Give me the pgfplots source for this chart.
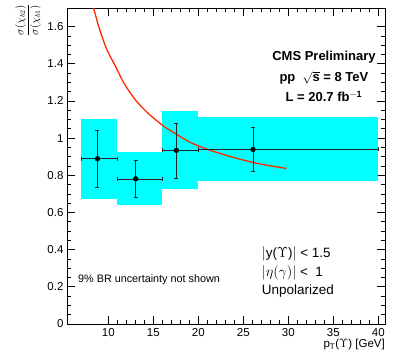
\documentclass[border=0pt]{standalone}
\usepackage{fontspec}
\setmainfont{Liberation Sans}
\usepackage{pgfplots}
\pgfplotsset{compat=1.18}
\definecolor{rootcyan}{RGB}{0,255,255}
\definecolor{rootred}{RGB}{255,40,0}
\begin{document}
\begin{tikzpicture}
\useasboundingbox (0,0) rectangle (395pt,357pt);
\begin{axis}[
  name=ax,
  at={(67pt,33pt)}, anchor=south west,
  scale only axis, width=318pt, height=316pt,
  xmin=5.4, xmax=40.75, ymin=0, ymax=1.7,
  xtick={10,15,20,25,30,35,40},
  ytick={0,0.2,0.4,0.6,0.8,1,1.2,1.4,1.6},
  minor x tick num=4, minor y tick num=3,
  tick pos=both, tick align=inside,
  major tick length=8pt, minor tick length=4pt,
  axis line style={line width=0.8pt},
  every tick/.style={line width=0.7pt, black},
  /pgf/number format/assume math mode=true,
  ticklabel style={font=\fontsize{11.5}{13}\selectfont},
  xticklabel style={yshift=-1pt},
  xlabel={p$_{\mathrm{T}}$($\Upsilon$) [GeV]},
  xlabel style={at={(axis description cs:1,0)}, anchor=north east, yshift=-12pt, inner xsep=0pt, font=\fontsize{11.5}{13}\selectfont},
  clip=true,
]
% systematic boxes
\addplot[fill=rootcyan, draw=none] coordinates {(7,0.672) (11,0.672) (11,1.105) (7,1.105)} -- cycle;
\addplot[fill=rootcyan, draw=none] coordinates {(11,0.640) (16,0.640) (16,0.926) (11,0.926)} -- cycle;
\addplot[fill=rootcyan, draw=none] coordinates {(16,0.724) (20,0.724) (20,1.147) (16,1.147)} -- cycle;
\addplot[fill=rootcyan, draw=none] coordinates {(20,0.770) (40,0.770) (40,1.111) (20,1.111)} -- cycle;
% theory curve
\addplot[rootred, line width=1.3pt, smooth] coordinates {
 (8.20,1.73) (8.93,1.60) (9.80,1.48) (10.75,1.39) (11.8,1.29) (13.1,1.20)
 (14.5,1.13) (16.1,1.066) (17.6,1.020) (19.1,0.977) (21.3,0.935)
 (24.0,0.895) (26.1,0.869) (28.0,0.851) (29.8,0.837)};
% data points
\addplot[black, only marks, mark=*, mark size=2.4pt,
  error bars/.cd, x dir=both, x explicit, y dir=both, y explicit,
  error bar style={line width=0.6pt, black!85},
  error mark options={rotate=90, mark size=2pt, line width=0.6pt, black!85}]
  table[x=x, y=y, x error plus=xp, x error minus=xm, y error plus=yp, y error minus=ym] {
  x     y     xm    xp     ym     yp
  8.79  0.889 1.79  2.21   0.154  0.154
  13.04 0.781 2.04  2.96   0.097  0.099
  17.56 0.934 1.56  2.44   0.149  0.145
  26.08 0.939 6.08  13.92  0.118  0.118
  };
\node[anchor=base, inner sep=0pt, font=\fontsize{13}{15}\selectfont\bfseries] at (axis description cs:0.808,0.835) {CMS Preliminary};
\node[anchor=base, inner sep=0pt, font=\fontsize{13}{15}\selectfont\bfseries] at (axis description cs:0.808,0.766) {pp\ \ $\sqrt{\mathbf{s}}$ = 8 TeV};
\node[anchor=base, inner sep=0pt, font=\fontsize{13}{15}\selectfont\bfseries] at (axis description cs:0.808,0.703) {L = 20.7 fb$^{\mathbf{-1}}$};
\node[anchor=base west, inner sep=0pt, font=\fontsize{13.5}{15}\selectfont] at (axis description cs:0.612,0.212) {$|$y($\Upsilon$)$|$ < 1.5};
\node[anchor=base west, inner sep=0pt, font=\fontsize{13.5}{15}\selectfont] at (axis description cs:0.612,0.150) {$|\eta(\gamma)|$ <\ \ 1};
\node[anchor=base west, inner sep=0pt, font=\fontsize{13.5}{15}\selectfont] at (axis description cs:0.612,0.092) {Unpolarized};
\node[anchor=base west, inner sep=0pt, font=\fontsize{10.8}{12}\selectfont] at (axis description cs:0.0346,0.132) {9\% BR uncertainty not shown};
\end{axis}
\path ([xshift=-39pt,yshift=4pt]ax.north west) node[rotate=90, anchor=east, inner sep=0pt, font=\fontsize{10.5}{12}\selectfont] {$\displaystyle\frac{\sigma(\chi_{b2})}{\sigma(\chi_{b1})}$};
\end{tikzpicture}
\end{document}
